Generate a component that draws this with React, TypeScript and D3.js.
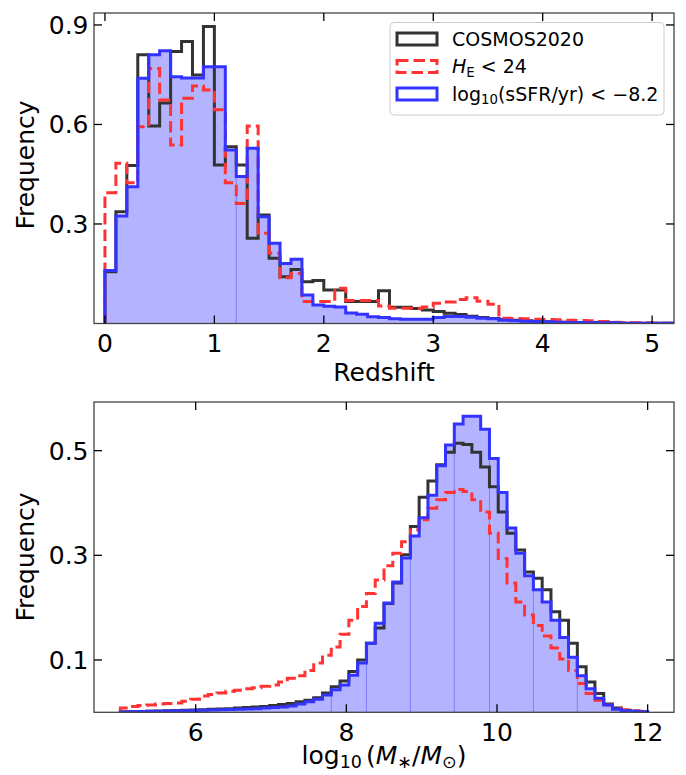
import * as d3 from 'd3';

// redshift histograms, bins of 0.1 starting at z = 0
const zBinStart = 0;
const zBinWidth = 0.1;
const zCosmos = [0.156, 0.337, 0.476, 0.81, 0.595, 0.665, 0.82, 0.85, 0.749, 0.895,
  0.478, 0.533, 0.478, 0.257, 0.327, 0.197, 0.141, 0.163, 0.126, 0.13,
  0.101, 0.101, 0.066, 0.066, 0.066, 0.099, 0.049, 0.049, 0.045, 0.041,
  0.036, 0.031, 0.027, 0.022, 0.018, 0.015, 0.012, 0.01, 0.008, 0.007,
  0.005, 0.004, 0.004, 0.003, 0.003, 0.002, 0.002, 0.001, 0.001, 0.001, 0.001, 0.0005];
const zHband = [0.394, 0.483, 0.424, 0.593, 0.769, 0.674, 0.538, 0.679, 0.716, 0.704,
  0.644, 0.424, 0.362, 0.595, 0.272, 0.212, 0.138, 0.151, 0.066, 0.066,
  0.066, 0.106, 0.069, 0.069, 0.069, 0.053, 0.046, 0.046, 0.046, 0.05,
  0.061, 0.065, 0.072, 0.078, 0.067, 0.058, 0.016, 0.015, 0.014, 0.013,
  0.012, 0.011, 0.01, 0.009, 0.008, 0.006, 0.004, 0.003, 0.002, 0.002, 0.001, 0.001];
const zSsfr = [0.16, 0.324, 0.412, 0.739, 0.81, 0.822, 0.744, 0.74, 0.74, 0.774,
  0.774, 0.523, 0.443, 0.528, 0.322, 0.242, 0.181, 0.194, 0.086, 0.056,
  0.052, 0.05, 0.032, 0.028, 0.02, 0.018, 0.014, 0.013, 0.013, 0.013,
  0.018, 0.021, 0.021, 0.019, 0.016, 0.014, 0.01, 0.008, 0.007, 0.006,
  0.005, 0.004, 0.003, 0.003, 0.002, 0.002, 0.002, 0.001, 0.001, 0.001, 0.001, 0.0005];
const zSeams = [12];

// stellar mass histograms, 60 bins between 5 and 12
const mBinStart = 5;
const mBinWidth = 7 / 60;
const mCosmos = [0.001, 0.001, 0.0015, 0.002, 0.0025, 0.003, 0.0035, 0.004, 0.0045, 0.005,
  0.006, 0.0065, 0.007, 0.008, 0.009, 0.01, 0.011, 0.013, 0.015, 0.017,
  0.02, 0.023, 0.028, 0.037, 0.049, 0.06, 0.078, 0.1, 0.132, 0.161,
  0.208, 0.247, 0.301, 0.355, 0.411, 0.442, 0.473, 0.497, 0.514, 0.512,
  0.497, 0.469, 0.431, 0.383, 0.342, 0.31, 0.268, 0.256, 0.234, 0.192,
  0.176, 0.132, 0.087, 0.058, 0.036, 0.016, 0.008, 0.004, 0.002, 0.001];
const mHband = [0.008, 0.011, 0.013, 0.014, 0.016, 0.017, 0.018, 0.021, 0.025, 0.031,
  0.034, 0.037, 0.04, 0.042, 0.045, 0.047, 0.05, 0.052, 0.058, 0.065,
  0.07, 0.08, 0.094, 0.109, 0.125, 0.149, 0.176, 0.202, 0.227, 0.253,
  0.28, 0.304, 0.326, 0.349, 0.368, 0.39, 0.406, 0.42, 0.426, 0.422,
  0.406, 0.383, 0.342, 0.294, 0.247, 0.211, 0.186, 0.166, 0.146, 0.123,
  0.102, 0.08, 0.055, 0.036, 0.023, 0.014, 0.008, 0.005, 0.003, 0.002];
const mSsfr = [0.0005, 0.001, 0.0015, 0.002, 0.002, 0.0025, 0.003, 0.003, 0.0035, 0.004,
  0.0045, 0.005, 0.0055, 0.006, 0.0065, 0.007, 0.008, 0.009, 0.01, 0.012,
  0.016, 0.02, 0.025, 0.033, 0.043, 0.052, 0.071, 0.094, 0.132, 0.17,
  0.209, 0.249, 0.295, 0.337, 0.372, 0.415, 0.471, 0.511, 0.551, 0.566,
  0.566, 0.541, 0.485, 0.42, 0.352, 0.304, 0.261, 0.234, 0.211, 0.176,
  0.143, 0.105, 0.07, 0.045, 0.027, 0.014, 0.006, 0.003, 0.002, 0.001];
const mSeams = [24, 28, 33, 38, 42, 47, 52];

const zTicks = [0, 1, 2, 3, 4, 5];
const zFreqTicks = [0.3, 0.6, 0.9];
const mTicks = [6, 8, 10, 12];
const mFreqTicks = [0.1, 0.3, 0.5];

const FONT = 'DejaVu Sans';
const COL_K = '#333333';
const COL_R = '#ff3333';
const COL_B = '#3333ff';
const COL_FILL = '#b3b3ff';
const LEFT = 94;
const RIGHT = 674;
const TICK = 8;
const FS = 25;

type Pt = [number, number];

type PanelProps = {
  id: string;
  top: number;
  bottom: number;
  xDomain: [number, number];
  yDomain: [number, number];
  start: number;
  width: number;
  black: number[];
  red: number[];
  blue: number[];
  seams: number[];
  xTicks: number[];
  yTicks: number[];
  xlabel: React.ReactNode;
  ylabelY: number;
  legend?: boolean;
};

function Panel(p: PanelProps) {
  const x = d3.scaleLinear().domain(p.xDomain).range([LEFT, RIGHT]);
  const y = d3.scaleLinear().domain(p.yDomain).range([p.bottom, p.top]);
  const edge = (i: number) => p.start + i * p.width;

  const stepPts = (vals: number[]): Pt[] => [
    [edge(0), 0],
    ...vals.map((v, i) => [edge(i), v] as Pt),
    [edge(vals.length), 0],
  ];
  const line = d3.line<Pt>().x(d => x(d[0])).y(d => y(d[1])).curve(d3.curveStepAfter);
  const area = d3.area<Pt>().x(d => x(d[0])).y0(y(0)).y1(d => y(d[1])).curve(d3.curveStepAfter);

  return (
    <g>
      <defs>
        <clipPath id={p.id}>
          <rect x={LEFT} y={p.top} width={RIGHT - LEFT} height={p.bottom - p.top} />
        </clipPath>
      </defs>
      <g clipPath={`url(#${p.id})`}>
        <path d={area(stepPts(p.blue)) ?? ''} fill={COL_FILL} />
        {p.seams.map(s => (
          <line key={s} x1={x(edge(s))} x2={x(edge(s))} y1={y(0)}
            y2={y(Math.min(p.blue[s - 1], p.blue[s]))} stroke="#7f7fff" strokeWidth={1} />
        ))}
        <path d={line(stepPts(p.black)) ?? ''} fill="none" stroke={COL_K} strokeWidth={3} />
        <path d={line(stepPts(p.red)) ?? ''} fill="none" stroke={COL_R} strokeWidth={3}
          strokeDasharray="11.5,5" />
        <path d={line(stepPts(p.blue)) ?? ''} fill="none" stroke={COL_B} strokeWidth={3} />
      </g>
      <rect x={LEFT} y={p.top} width={RIGHT - LEFT} height={p.bottom - p.top}
        fill="none" stroke="#444" strokeWidth={1.3} />
      {p.xTicks.map(t => (
        <g key={'x' + t}>
          <line x1={x(t)} x2={x(t)} y1={p.bottom} y2={p.bottom - TICK} stroke="#000" strokeWidth={1.3} />
          <line x1={x(t)} x2={x(t)} y1={p.top} y2={p.top + TICK} stroke="#000" strokeWidth={1.3} />
          <text x={x(t)} y={p.bottom + 28.5} textAnchor="middle" fontSize={FS}>{t}</text>
        </g>
      ))}
      {p.yTicks.map(t => (
        <g key={'y' + t}>
          <line x1={LEFT} x2={LEFT + TICK} y1={y(t)} y2={y(t)} stroke="#000" strokeWidth={1.3} />
          <line x1={RIGHT} x2={RIGHT - TICK} y1={y(t)} y2={y(t)} stroke="#000" strokeWidth={1.3} />
          <text x={88.5} y={y(t) + 9} textAnchor="end" fontSize={FS}>{d3.format('.1f')(t)}</text>
        </g>
      ))}
      <text transform={`translate(33.5,${p.ylabelY}) rotate(-90)`} textAnchor="middle" fontSize={FS}>
        Frequency
      </text>
      {p.xlabel}
      {p.legend && <Legend />}
    </g>
  );
}

function Legend() {
  const rows = [39, 66.5, 94];
  const hx = 397;
  return (
    <g>
      <rect x={390} y={22.5} width={274} height={92.5} rx={4} fill="#fff" fillOpacity={0.8}
        stroke="#cccccc" strokeWidth={1} />
      <rect x={hx} y={rows[0] - 6} width={40} height={12} fill="none" stroke={COL_K} strokeWidth={3} />
      <rect x={hx} y={rows[1] - 6} width={40} height={12} fill="none" stroke={COL_R} strokeWidth={3}
        strokeDasharray="11.5,5" />
      <rect x={hx} y={rows[2] - 6} width={40} height={12} fill="none" stroke={COL_B} strokeWidth={3} />
      <text x={452} y={rows[0] + 7} fontSize={19}>COSMOS2020</text>
      <text x={452} y={rows[1] + 6.5} fontSize={19}>
        <tspan fontStyle="italic">H</tspan>
        <tspan fontSize={13.3} dy={3.5}>E</tspan>
        <tspan dy={-3.5}> {'<'} 24</tspan>
      </text>
      <text x={452} y={rows[2] + 6.5} fontSize={19}>
        log<tspan fontSize={13.3} dy={3.5}>10</tspan>
        <tspan dy={-3.5}>(sSFR/yr) {'<'} −8.2</tspan>
      </text>
    </g>
  );
}

export default function App() {
  const topX: [number, number] = [-0.1, 5.2];
  const botX: [number, number] = [4.65, 12.35];
  return (
    <div style={{ position: 'fixed', left: 0, top: 0, background: '#fff' }}>
      <svg width={686} height={775} fontFamily={FONT} style={{ display: 'block' }}>
        <rect width={686} height={775} fill="#fff" />
        <Panel id="clipTop" top={13} bottom={323.5} xDomain={topX} yDomain={[0, 0.936]}
          start={zBinStart} width={zBinWidth} black={zCosmos} red={zHband} blue={zSsfr}
          seams={zSeams} xTicks={zTicks} yTicks={zFreqTicks} ylabelY={165} legend
          xlabel={<text x={384} y={381} textAnchor="middle" fontSize={FS}>Redshift</text>} />
        <Panel id="clipBot" top={402} bottom={712.3} xDomain={botX} yDomain={[0, 0.593]}
          start={mBinStart} width={mBinWidth} black={mCosmos} red={mHband} blue={mSsfr}
          seams={mSeams} xTicks={mTicks} yTicks={mFreqTicks} ylabelY={557}
          xlabel={
            <text x={384} y={764} textAnchor="middle" fontSize={FS}>
              log<tspan fontSize={17.5} dy={4}>10</tspan>
              <tspan dy={-4} dx={4}>(</tspan>
              <tspan fontStyle="italic">M</tspan>
              <tspan fontSize={17.5} dy={4}>∗</tspan>
              <tspan dy={-4}>/</tspan>
              <tspan fontStyle="italic">M</tspan>
              <tspan fontSize={17.5} dy={4}>⊙</tspan>
              <tspan dy={-4}>)</tspan>
            </text>
          } />
      </svg>
    </div>
  );
}
